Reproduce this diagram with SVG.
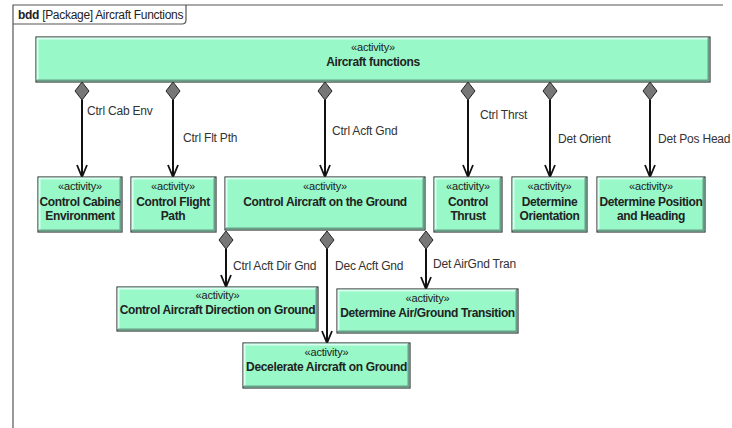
<svg xmlns="http://www.w3.org/2000/svg" width="732" height="428" viewBox="0 0 732 428">
<style>
.frame{fill:none;stroke:#555;stroke-width:1.2}
.box{fill:#98f8c8;stroke:#3a3a3a;stroke-width:1.2}
.hl{fill:none;stroke:#d8fff0;stroke-width:2}
.sh{fill:none;stroke:#6a9e88;stroke-width:2}
.st{font-family:"Liberation Sans",Arial,sans-serif;font-size:11px;fill:#222;text-anchor:middle;letter-spacing:-0.2px}
.nm{font-family:"Liberation Sans",Arial,sans-serif;font-size:12px;font-weight:bold;fill:#222;text-anchor:middle;letter-spacing:-0.35px}
.lbl{font-family:"Liberation Sans",Arial,sans-serif;font-size:12px;fill:#333;letter-spacing:-0.2px}
.ln{fill:none;stroke:#111;stroke-width:2}
.dia{fill:#777;stroke:#222;stroke-width:1}
</style>
<defs>
<marker id="arr" markerWidth="14" markerHeight="14" refX="13" refY="7" orient="auto" markerUnits="userSpaceOnUse" viewBox="0 0 14 14">
<path d="M1,2 L13,7 L1,12" fill="none" stroke="#111" stroke-width="1.8"/>
</marker>
</defs>
<rect x="0" y="0" width="732" height="428" fill="#fff"/>
<g id="frame">
<path class="frame" d="M723,5 L13,5 L13,428"/>
<path class="frame" d="M13,24 L182,24 Q186,24 186,20 L186,5"/>
<text x="18" y="19" font-family="Liberation Sans,Arial,sans-serif" font-size="12px" fill="#222" letter-spacing="-0.3"><tspan font-weight="bold">bdd</tspan> [Package] Aircraft Functions</text>
</g>
<g id="connectors">
<path class="ln" d="M82,100 V177" marker-end="url(#arr)"/>
<path class="ln" d="M173,100 V177" marker-end="url(#arr)"/>
<path class="ln" d="M325,100 V177" marker-end="url(#arr)"/>
<path class="ln" d="M468,100 V177" marker-end="url(#arr)"/>
<path class="ln" d="M550,100 V177" marker-end="url(#arr)"/>
<path class="ln" d="M650,100 V177" marker-end="url(#arr)"/>
<path class="ln" d="M226,249 V287" marker-end="url(#arr)"/>
<path class="ln" d="M327,249 V343" marker-end="url(#arr)"/>
<path class="ln" d="M426,249 V289" marker-end="url(#arr)"/>
<path class="dia" d="M82,82 L89,91 L82,100 L75,91 Z"/>
<path class="dia" d="M173,82 L180,91 L173,100 L166,91 Z"/>
<path class="dia" d="M325,82 L332,91 L325,100 L318,91 Z"/>
<path class="dia" d="M468,82 L475,91 L468,100 L461,91 Z"/>
<path class="dia" d="M550,82 L557,91 L550,100 L543,91 Z"/>
<path class="dia" d="M650,82 L657,91 L650,100 L643,91 Z"/>
<path class="dia" d="M226,231 L233,240 L226,249 L219,240 Z"/>
<path class="dia" d="M327,231 L334,240 L327,249 L320,240 Z"/>
<path class="dia" d="M426,231 L433,240 L426,249 L419,240 Z"/>
<text class="lbl" x="87" y="115">Ctrl Cab Env</text>
<text class="lbl" x="183" y="142">Ctrl Flt Pth</text>
<text class="lbl" x="332" y="135">Ctrl Acft Gnd</text>
<text class="lbl" x="480" y="119">Ctrl Thrst</text>
<text class="lbl" x="558" y="143">Det Orient</text>
<text class="lbl" x="658" y="143">Det Pos Head</text>
<text class="lbl" x="233" y="270">Ctrl Acft Dir Gnd</text>
<text class="lbl" x="335" y="270">Dec Acft Gnd</text>
<text class="lbl" x="433" y="268">Det AirGnd Tran</text>
</g>
<g id="aircraft-functions">
<rect class="box" x="36" y="37" width="674" height="45"/>
<path class="hl" d="M37.5,80 V38.5 H708"/><path class="sh" d="M37,80.5 H708.5 V38"/>
<text class="st" x="373" y="51">«activity»</text>
<text class="nm" x="373" y="66">Aircraft functions</text>
</g>
<g id="control-cabine-environment">
<rect class="box" x="38" y="177" width="84" height="55"/>
<path class="hl" d="M39.5,230 V178.5 H120"/><path class="sh" d="M39,230.5 H120.5 V178"/>
<text class="st" x="80" y="190">«activity»</text>
<text class="nm" x="80" y="206">Control Cabine</text>
<text class="nm" x="80" y="220">Environment</text>
</g>
<g id="control-flight-path">
<rect class="box" x="131" y="177" width="85" height="55"/>
<path class="hl" d="M132.5,230 V178.5 H214"/><path class="sh" d="M132,230.5 H214.5 V178"/>
<text class="st" x="173" y="190">«activity»</text>
<text class="nm" x="173" y="206">Control Flight</text>
<text class="nm" x="173" y="220">Path</text>
</g>
<g id="control-aircraft-on-the-ground">
<rect class="box" x="225" y="177" width="200" height="53"/>
<path class="hl" d="M226.5,228 V178.5 H423"/><path class="sh" d="M226,228.5 H423.5 V178"/>
<text class="st" x="325" y="190">«activity»</text>
<text class="nm" x="325" y="206">Control Aircraft on the Ground</text>
</g>
<g id="control-thrust">
<rect class="box" x="434" y="177" width="68" height="55"/>
<path class="hl" d="M435.5,230 V178.5 H500"/><path class="sh" d="M435,230.5 H500.5 V178"/>
<text class="st" x="468" y="190">«activity»</text>
<text class="nm" x="468" y="206">Control</text>
<text class="nm" x="468" y="220">Thrust</text>
</g>
<g id="determine-orientation">
<rect class="box" x="512" y="177" width="75" height="55"/>
<path class="hl" d="M513.5,230 V178.5 H585"/><path class="sh" d="M513,230.5 H585.5 V178"/>
<text class="st" x="549.5" y="190">«activity»</text>
<text class="nm" x="549.5" y="206">Determine</text>
<text class="nm" x="549.5" y="220">Orientation</text>
</g>
<g id="determine-position-and-heading">
<rect class="box" x="597" y="177" width="108" height="55"/>
<path class="hl" d="M598.5,230 V178.5 H703"/><path class="sh" d="M598,230.5 H703.5 V178"/>
<text class="st" x="651" y="190">«activity»</text>
<text class="nm" x="651" y="206">Determine Position</text>
<text class="nm" x="651" y="220">and Heading</text>
</g>
<g id="control-aircraft-direction-on-ground">
<rect class="box" x="117" y="287" width="201" height="44"/>
<path class="hl" d="M118.5,329 V288.5 H316"/><path class="sh" d="M118,329.5 H316.5 V288"/>
<text class="st" x="217.5" y="299">«activity»</text>
<text class="nm" x="217.5" y="314">Control Aircraft Direction on Ground</text>
</g>
<g id="determine-air-ground-transition">
<rect class="box" x="337" y="289" width="181" height="44"/>
<path class="hl" d="M338.5,331 V290.5 H516"/><path class="sh" d="M338,331.5 H516.5 V290"/>
<text class="st" x="427.5" y="302">«activity»</text>
<text class="nm" x="427.5" y="317">Determine Air/Ground Transition</text>
</g>
<g id="decelerate-aircraft-on-ground">
<rect class="box" x="243" y="343" width="167" height="45"/>
<path class="hl" d="M244.5,386 V344.5 H408"/><path class="sh" d="M244,386.5 H408.5 V344"/>
<text class="st" x="326.5" y="356">«activity»</text>
<text class="nm" x="326.5" y="371">Decelerate Aircraft on Ground</text>
</g>
</svg>
